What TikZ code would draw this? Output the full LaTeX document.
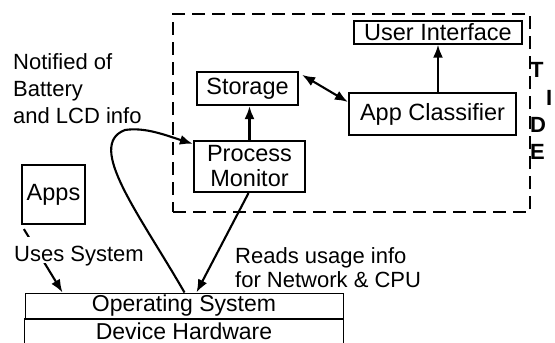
\documentclass[tikz,border=0pt]{standalone}
\usepackage{fontspec}
\setmainfont{Liberation Sans}
\usetikzlibrary{arrows.meta,calc}
\begin{document}
\begin{tikzpicture}[x=1pt,y=-1pt,
  every node/.style={font=\fontsize{22}{24}\selectfont},
  box/.style={draw,line width=2.2pt,inner sep=0pt,align=center,font=\fontsize{23.5}{25}\selectfont},
  thinbox/.style={draw,line width=1pt,inner sep=0pt,align=center,font=\fontsize{23}{25}\selectfont},
  thinline/.style={line width=1pt},
  arr/.style={line width=2.1pt,-{Latex[length=13pt,width=10pt]}},
  dblarr/.style={line width=2.1pt,{Latex[length=13pt,width=10pt]}-{Latex[length=13pt,width=10pt]}},
  lbl/.style={inner sep=0pt,anchor=north west,align=left},
  bigletter/.style={inner sep=0pt,anchor=west,font=\fontsize{22}{24}\selectfont\bfseries}]
\useasboundingbox (0,0) rectangle (555,343);
\clip (0,0) rectangle (555,343);
% dashed frame
\node[draw,dash pattern=on 13pt off 7pt,line width=2.8pt,minimum width=357pt,minimum height=198pt,inner sep=0pt] (frame) at (351.5,113) {};
% boxes
\node[box,line width=1.4pt,minimum width=168pt,minimum height=23pt] (ui) at (438,32.5) {User Interface};
\node[box,minimum width=101pt,minimum height=33pt] (storage) at (247.5,88.5) {Storage};
\node[box,minimum width=167pt,minimum height=42pt] (appc) at (432.5,114) {App Classifier};
\node[box,minimum width=111pt,minimum height=51pt] (pm) at (249.5,166.5) {Process\\Monitor};
\node[box,minimum width=63pt,minimum height=59pt] (apps) at (53.5,194.5) {Apps};
\node[thinbox,minimum width=318pt,minimum height=26pt] (os) at (184,306) {Operating System};
\node[inner sep=0pt,minimum width=318pt,minimum height=24pt,font=\fontsize{23}{25}\selectfont] (dh) at (184,331) {Device Hardware};
\draw[thinline] (dh.south west) -- (dh.north west) -- (dh.north east) -- (dh.south east);
% right-hand letters
\node[bigletter] (lt) at (530,70) {T};
\node[bigletter] (li) at (546,98) {I};
\node[bigletter] (ld) at (530,125) {D};
\node[bigletter] (le) at (530,152) {E};
% labels
\node[lbl,font=\fontsize{22}{27}\selectfont] (notif) at (13,53) {Notified of\\Battery\\and LCD info};
\node[lbl] (reads) at (235,247) {Reads usage info\\for Network \& CPU};
% connectors
\draw[arr] (pm.north) -- (pm.north |- storage.south);
\draw[dblarr] ($(storage.north east)+(3,4)$) -- ($(appc.west)+(0,-12)$);
\draw[arr] (appc.north -| ui.south) -- (ui.south);
\draw[arr] ($(pm.south)+(-1,0)$) -- ($(os.north west)+(172,0)$);
\draw[arr] ($(os.north west)+(160,0)$) .. controls (140,215) and (85,145) .. (125,130)
  .. controls (145,127) and (165,135) .. ($(pm.north west)+(0,4)$);
\draw[arr] ($(apps.south west)+(3,4)$) -- ($(os.north west)+(38,0)$);
\node[anchor=base west,fill=white,inner xsep=1pt,inner ysep=0pt,text height=24pt,text depth=2pt] (uses) at (13,261) {Uses System};
\end{tikzpicture}
\end{document}
